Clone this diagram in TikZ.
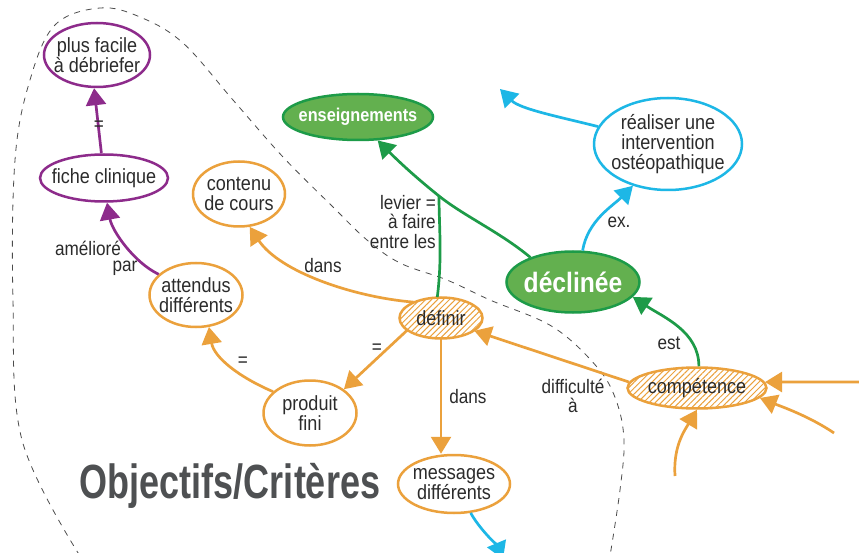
\documentclass[tikz,border=0pt]{standalone}
\usepackage{fontspec}
\setmainfont{Liberation Sans}[FakeStretch=0.88]
\newfontfamily\titrefont{Liberation Sans}[FakeStretch=0.75]
\usetikzlibrary{shapes.geometric,arrows.meta,patterns.meta}
\definecolor{orng}{HTML}{EBA13C}
\definecolor{purp}{HTML}{8D2B8B}
\definecolor{grnline}{HTML}{1D9B48}
\definecolor{grnfill}{HTML}{63B04F}
\definecolor{blu}{HTML}{1DB7E6}
\definecolor{txt}{HTML}{2B2B2B}
\definecolor{titregris}{HTML}{4E5052}

\begin{document}
\begin{tikzpicture}[x=1pt,y=-1pt,
    concept/.style={ellipse,draw,line width=2.5pt,fill=white,inner xsep=-30pt,inner ysep=-20pt,align=center,text=txt,font=\fontsize{20.5}{20}\selectfont},
    hatched/.style={concept,draw=orng,preaction={fill=white},pattern={Lines[angle=45,distance=4.2pt,line width=1pt]},pattern color=orng},
    green/.style={concept,draw=grnline,fill=grnfill,text=white},
    link/.style={line width=2.7pt,-{Triangle[length=17pt,width=20pt]}},
    lbl/.style={text=txt,inner sep=0pt,align=center,font=\fontsize{19.5}{19.5}\selectfont}]
    \useasboundingbox (0,0) rectangle (859,553);
    \fill[white] (0,0) rectangle (859,553);

    % dashed border of the region
    \draw[black!70,line width=0.8pt,dash pattern=on 6pt off 6pt] plot[smooth,tension=0.6] coordinates {(80,556) (22,440) (13,300) (15,160) (30,80) (55,25) (100,8) (140,17) (183,43) (233,100) (283,157) (333,207) (367,240) (400,263) (447,280) (490,300) (553,327) (597,367) (616,400) (624,440) (620,490) (610,556)};

    \node (plusfacile) [concept,draw=purp,minimum width=106pt,minimum height=64pt] at (97,55) {plus facile\\à débriefer};
    \node (fiche) [concept,draw=purp,minimum width=128pt,minimum height=47pt] at (104,178) {fiche clinique};
    \node (contenu) [concept,draw=orng,minimum width=92pt,minimum height=65pt] at (239,194) {contenu\\de cours};
    \node (attendus) [concept,draw=orng,minimum width=93pt,minimum height=64pt] at (196,295) {attendus\\différents};
    \node (produit) [concept,draw=orng,minimum width=93pt,minimum height=65pt] at (310,413) {produit\\fini};
    \node (messages) [concept,draw=orng,minimum width=112pt,minimum height=58pt] at (454,484) {messages\\différents};
    \node (definir) [hatched,minimum width=83pt,minimum height=41pt] at (441,318) {définir};
    \node (competence) [hatched,minimum width=139pt,minimum height=41pt] at (697,388) {compétence};
    \node (enseignements) [green,minimum width=150pt,minimum height=46pt,font=\fontsize{18.5}{20}\selectfont\bfseries] at (358,117) {enseignements};
    \node (declinee) [green,minimum width=133pt,minimum height=61pt,font=\fontsize{28}{28}\selectfont\bfseries] at (573,282) {déclinée};
    \node (realiser) [concept,draw=blu,minimum width=148pt,minimum height=92pt] at (668,144) {réaliser une\\intervention\\ostéopathique};
    \node (titre) [text=titregris,font=\titrefont\fontsize{48}{48}\selectfont\bfseries] at (230,486) {Objectifs/Critères};

    \coordinate (hub) at (439,196);
    \coordinate (outA) at (500,89);
    \coordinate (outB) at (503,559);
    \coordinate (inA) at (862,382);
    \coordinate (inB) at (834,433);
    \coordinate (inC) at (675,476);

    % purple
    \draw[link,purp] (fiche.96) -- (plusfacile.265);
    \node (lblegal) [lbl] at (99,126) {=};
    \draw[link,purp] (attendus.151) .. controls +(-25,-12) and +(5,28) .. (fiche.-83);
    \node (lblameliore) [lbl] at (88,248) {amélioré};
    \node (lblpar) [lbl] at (125,268) {par};

    % orange
    \draw[link,orng] (definir.150) .. controls +(-60,-5) and +(30,45) .. (contenu.-72);
    \node (lbldans) [lbl] at (323,266) {dans};
    \draw[link,orng] (produit.150) .. controls +(-35,-15) and +(5,30) .. (attendus.-68);
    \node (lblfini) [lbl] at (243,362) {=};
    \draw[link,orng] (definir.200) -- (produit.35);
    \node (lbldef) [lbl] at (377,349) {=};
    \draw[link,orng] (definir.south) -- (definir.south |- messages.north) node[lbl,midway,right=7pt] {dans};
    \draw[link,orng] (competence.175) -- (definir.-21);
    \node (lbldiff) [lbl] at (573,396) {difficulté\\à};
    \draw[link,orng] (inA) -- (competence.5);
    \draw[link,orng] (inB) .. controls +(-25,-17) and +(20,8) .. (competence.-9);
    \draw[link,orng] (inC) .. controls +(-2,-30) and +(-12,20) .. (competence.south);

    % green
    \draw[link,grnline] (competence.85) .. controls +(0,-35) and +(30,20) .. (declinee.-14);
    \node (lblest) [lbl] at (669,343) {est};
    \draw[link,grnline] (declinee.150) .. controls +(-30,-25) and +(25,20) .. (hub) .. controls +(-25,-20) and +(20,20) .. (enseignements.-50);
    \draw[grnline,line width=2.7pt] (definir.100) .. controls +(5,-40) and +(0,30) .. (hub);
    \node (lbllevier) [lbl,anchor=east,align=right] at (436,222) {levier =\\à faire\\entre les};

    % blue
    \draw[link,blu] (declinee.73) .. controls +(5,-30) and +(-20,20) .. (realiser.230);
    \node (lblex) [lbl] at (619,222) {ex.};
    \draw[link,blu] (realiser.166) .. controls +(-40,-10) and +(20,20) .. (outA);
    \draw[link,blu] (messages.-60) .. controls +(8,15) and +(-5,-12) .. (outB);
\end{tikzpicture}
\end{document}
